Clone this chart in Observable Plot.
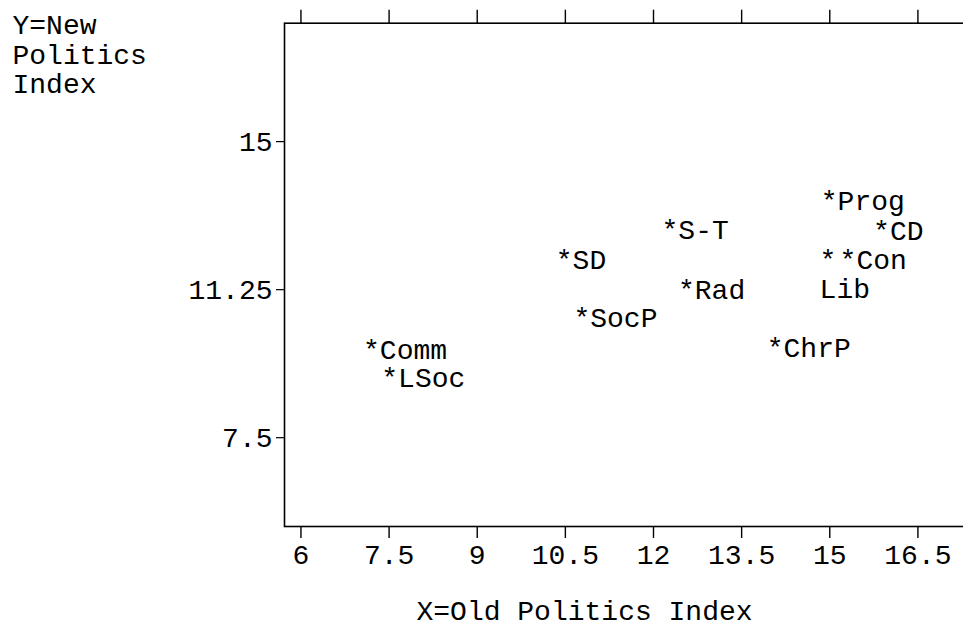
<!DOCTYPE html>
<html>
<head>
<meta charset="utf-8">
<script src="https://cdn.jsdelivr.net/npm/d3@7"></script>
<script src="https://cdn.jsdelivr.net/npm/@observablehq/plot@0.6"></script>
<style>
  html, body { margin: 0; padding: 0; background: white; overflow: hidden; }
  #chart { width: 963px; height: 628px; overflow: hidden; }
  #chart svg { max-width: none !important; }
</style>
</head>
<body>
<div id="chart"></div>
<script>
// Data
const parties = ["Comm", "LSoc", "SD", "SocP", "S-T", "Rad", "ChrP", "Prog", "CD", "Lib", "Con"];
const oldPolitics = [7.20, 7.51, 10.48, 10.78, 12.28, 12.56, 14.07, 14.99, 15.88, 14.97, 15.31];
const newPolitics = [9.85, 9.13, 12.12, 10.65, 12.88, 11.36, 9.89, 13.62, 12.86, 12.12, 12.12];

const xTicks = [6, 7.5, 9, 10.5, 12, 13.5, 15, 16.5];
const xTickLabels = ["6", "7.5", "9", "10.5", "12", "13.5", "15", "16.5"];
const yTicks = [15, 11.25, 7.5];
const yTickLabels = ["15", "11.25", "7.5"];

const xTitle = "X=Old Politics Index";
const yTitle = "Y=New\nPolitics\nIndex";

const rows = parties.map((name, i) => ({name, x: oldPolitics[i], y: newPolitics[i]}));

const FONT = "Liberation Mono, Courier New, monospace";
const FS = 28;

const chart = Plot.plot({
  width: 980,
  height: 628,
  marginLeft: 284,
  marginRight: 9.7,
  marginTop: 22.7,
  marginBottom: 102,
  style: {fontFamily: FONT, fontSize: FS + "px", background: "white", color: "black", maxWidth: "none"},
  x: {domain: [5.72, 17.4]},
  y: {domain: [5.25, 18]},
  marks: [
    Plot.frame({stroke: "black", strokeWidth: 1.6}),
    Plot.axisX({anchor: "bottom", ticks: xTicks, tickFormat: (d, i) => xTickLabels[i],
      tickSize: 12, tickPadding: 6, fontSize: FS, label: null, strokeWidth: 1.4}),
    Plot.axisX({anchor: "top", ticks: xTicks, tickFormat: () => "",
      tickSize: 14, label: null, strokeWidth: 1.4}),
    Plot.axisY({anchor: "left", ticks: yTicks, tickFormat: (d, i) => yTickLabels[i],
      tickSize: 8, tickPadding: 4, fontSize: FS, label: null, strokeWidth: 1.2}),
    // points with labels: asterisk is the data point
    Plot.text(rows, {x: "x", y: "y", text: d => d.name === "Lib" ? "*" : "*" + d.name,
      textAnchor: "start", lineAnchor: "bottom", dx: -8.4, dy: 14, fontSize: FS, fill: "black"}),
    // displaced label (overlapping point)
    Plot.text(rows.filter(d => d.name === "Lib"), {x: "x", y: "y", text: "name",
      textAnchor: "start", lineAnchor: "bottom", dx: -8.4, dy: 43, fontSize: FS, fill: "black"}),
    // axis titles
    Plot.text([xTitle], {frameAnchor: "bottom-left", text: d => d, textAnchor: "start",
      lineAnchor: "bottom", dx: 132, dy: 93, fontSize: FS, fill: "black"}),
    Plot.text([yTitle], {frameAnchor: "top-left", text: d => d, textAnchor: "start",
      lineAnchor: "top", lineHeight: 1.05, dx: -272, dy: -9.7, fontSize: FS, fill: "black"})
  ]
});
document.getElementById("chart").appendChild(chart);
</script>
</body>
</html>
